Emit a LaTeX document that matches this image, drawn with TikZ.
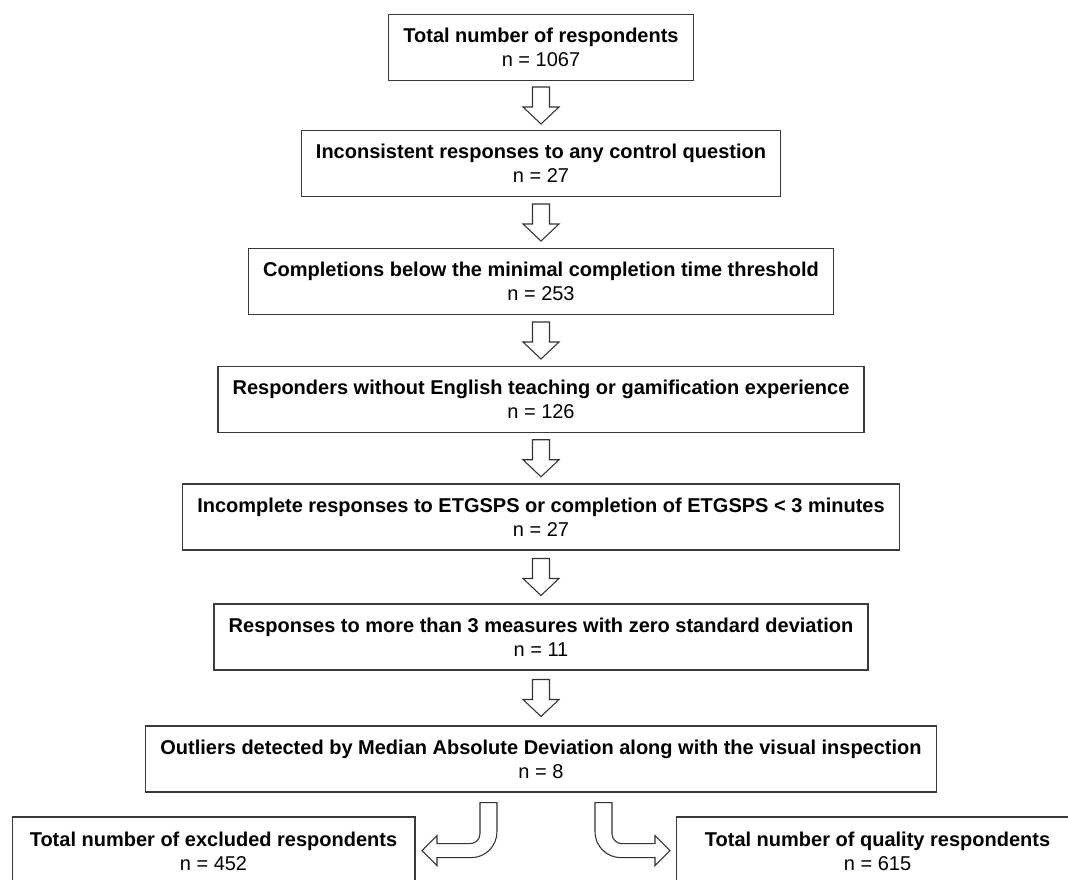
\documentclass[tikz,border=0pt]{standalone}
\usepackage{fontspec}
\setmainfont{Liberation Sans}
\usetikzlibrary{calc}
\definecolor{boxline}{HTML}{3A3A3A}
\definecolor{arrowline}{HTML}{333333}
\begin{document}
\begin{tikzpicture}[x=0.75pt,y=-0.75pt,
  stage/.style={draw=boxline, line width=1pt, fill=white, align=center,
    font=\fontsize{15}{18}\selectfont, text=black,
    inner xsep=11pt, inner ysep=0pt, minimum height=49.5pt},
  total/.style={stage, minimum width=302pt, minimum height=51pt},
  hollow/.style={draw=arrowline, line width=0.8pt, fill=white, line join=miter},
  downarrow/.pic={
    \draw[hollow] (-8.5,-18.5) -- (8.5,-18.5) -- (8.5,1.5) -- (18,1.5)
      -- (0,18.5) -- (-18,1.5) -- (-8.5,1.5) -- cycle;
  },
  bentarrow/.pic={
    \draw[hollow] (-66,10) -- (-49,10) -- (-49,39)
      .. controls (-49,53.4) and (-60.6,65) .. (-75,65)
      -- (-109,65) -- (-109,73) -- (-124,58) -- (-109,43) -- (-109,51)
      -- (-76,51) .. controls (-70.5,51) and (-66,46.5) .. (-66,41) -- cycle;
  }]
\useasboundingbox (0,0) rectangle (1068,879);
\clip (0,0) rectangle (1068,879);

% screening stages, top to bottom
\node[stage] (b1) at (541,47.5)
  {\textbf{Total number of respondents}\\n = 1067};
\node[stage] (b2) at (541,163.5)
  {\textbf{Inconsistent responses to any control question}\\n = 27};
\node[stage] (b3) at (541,281.5)
  {\textbf{Completions below the minimal completion time threshold}\\n = 253};
\node[stage] (b4) at (541,399.5)
  {\textbf{Responders without English teaching or gamification experience}\\n = 126};
\node[stage] (b5) at (541,517)
  {\textbf{Incomplete responses to ETGSPS or completion of ETGSPS < 3 minutes}\\n = 27};
\node[stage] (b6) at (541,637)
  {\textbf{Responses to more than 3 measures with zero standard deviation}\\n = 11};
\node[stage] (b7) at (541,759)
  {\textbf{Outliers detected by Median Absolute Deviation along with the visual inspection}\\n = 8};

% final totals
\node[total] (excl) at (213.5,851)
  {\textbf{Total number of excluded respondents}\\n = 452};
\node[total] (qual) at (877.5,851)
  {\textbf{Total number of quality respondents}\\n = 615};

% hollow arrows between consecutive stages
\foreach \a/\b in {b1/b2, b2/b3, b3/b4, b4/b5, b5/b6, b6/b7}{
  \path (\a.south) -- (\b.north) coordinate[midway] (gap-\a);
  \pic at (gap-\a) {downarrow};
}

% split into excluded and retained respondents
\coordinate (fork) at ($(b7.south)+(5,0)$);
\pic at (fork) {bentarrow};
\pic[xscale=-1] at (fork) {bentarrow};
\end{tikzpicture}
\end{document}
